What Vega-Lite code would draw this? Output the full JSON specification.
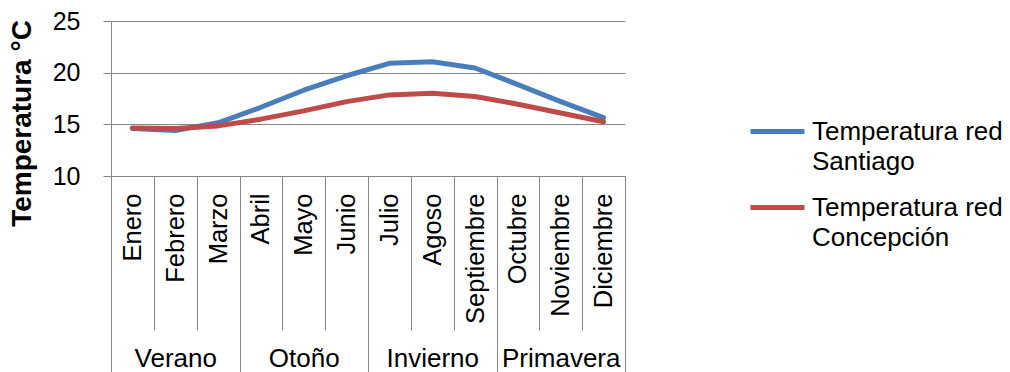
{
  "$schema": "https://vega.github.io/schema/vega-lite/v6.json",
  "width": 514,
  "height": 155,
  "autosize": {"type": "none"},
  "padding": {"left": 111, "top": 21, "right": 385, "bottom": 196},
  "datasets": {
    "temperaturas": [
      {"n": 1, "mes": "Enero", "serie": "Temperatura red Santiago", "temp": 14.6},
      {"n": 2, "mes": "Febrero", "serie": "Temperatura red Santiago", "temp": 14.4},
      {"n": 3, "mes": "Marzo", "serie": "Temperatura red Santiago", "temp": 15.15},
      {"n": 4, "mes": "Abril", "serie": "Temperatura red Santiago", "temp": 16.65},
      {"n": 5, "mes": "Mayo", "serie": "Temperatura red Santiago", "temp": 18.3},
      {"n": 6, "mes": "Junio", "serie": "Temperatura red Santiago", "temp": 19.7},
      {"n": 7, "mes": "Julio", "serie": "Temperatura red Santiago", "temp": 20.9},
      {"n": 8, "mes": "Agoso", "serie": "Temperatura red Santiago", "temp": 21.05},
      {"n": 9, "mes": "Septiembre", "serie": "Temperatura red Santiago", "temp": 20.45},
      {"n": 10, "mes": "Octubre", "serie": "Temperatura red Santiago", "temp": 18.85},
      {"n": 11, "mes": "Noviembre", "serie": "Temperatura red Santiago", "temp": 17.2},
      {"n": 12, "mes": "Diciembre", "serie": "Temperatura red Santiago", "temp": 15.65},
      {"n": 1, "mes": "Enero", "serie": "Temperatura red Concepción", "temp": 14.65},
      {"n": 2, "mes": "Febrero", "serie": "Temperatura red Concepción", "temp": 14.6},
      {"n": 3, "mes": "Marzo", "serie": "Temperatura red Concepción", "temp": 14.85},
      {"n": 4, "mes": "Abril", "serie": "Temperatura red Concepción", "temp": 15.5},
      {"n": 5, "mes": "Mayo", "serie": "Temperatura red Concepción", "temp": 16.3},
      {"n": 6, "mes": "Junio", "serie": "Temperatura red Concepción", "temp": 17.2},
      {"n": 7, "mes": "Julio", "serie": "Temperatura red Concepción", "temp": 17.85},
      {"n": 8, "mes": "Agoso", "serie": "Temperatura red Concepción", "temp": 18.0},
      {"n": 9, "mes": "Septiembre", "serie": "Temperatura red Concepción", "temp": 17.7},
      {"n": 10, "mes": "Octubre", "serie": "Temperatura red Concepción", "temp": 16.95},
      {"n": 11, "mes": "Noviembre", "serie": "Temperatura red Concepción", "temp": 16.1},
      {"n": 12, "mes": "Diciembre", "serie": "Temperatura red Concepción", "temp": 15.25}
    ],
    "estaciones": [
      {"estacion": "Verano"},
      {"estacion": "Otoño"},
      {"estacion": "Invierno"},
      {"estacion": "Primavera"}
    ]
  },
  "layer": [
    {
      "data": {"name": "estaciones"},
      "mark": {"type": "rect", "opacity": 0},
      "encoding": {
        "x": {
          "field": "estacion",
          "type": "nominal",
          "scale": {
            "domain": ["Verano", "Otoño", "Invierno", "Primavera"],
            "paddingInner": 0,
            "paddingOuter": 0
          },
          "axis": {
            "orient": "bottom",
            "title": null,
            "domain": false,
            "tickBand": "extent",
            "tickSize": 196,
            "labelAngle": 0,
            "labelAlign": "center",
            "labelBaseline": "top",
            "labelPadding": -27,
            "labelFontSize": 26
          }
        }
      }
    },
    {
      "data": {"name": "temperaturas"},
      "mark": {"type": "line", "strokeWidth": 5, "strokeCap": "round", "strokeJoin": "round"},
      "encoding": {
        "x": {
          "field": "mes",
          "type": "nominal",
          "bandPosition": 0.5,
          "scale": {
            "type": "band",
            "domain": ["Enero", "Febrero", "Marzo", "Abril", "Mayo", "Junio", "Julio", "Agoso", "Septiembre", "Octubre", "Noviembre", "Diciembre"],
            "paddingInner": 0,
            "paddingOuter": 0
          },
          "axis": {
            "orient": "bottom",
            "title": null,
            "tickBand": "extent",
            "tickSize": 154,
            "labelAngle": -90,
            "labelAlign": "right",
            "labelBaseline": "middle",
            "labelPadding": -137,
            "labelFontSize": 25.5
          }
        },
        "y": {
          "field": "temp",
          "type": "quantitative",
          "scale": {"domain": [10, 25], "nice": false, "zero": false},
          "axis": {
            "values": [10, 15, 20, 25],
            "title": "Temperatura °C",
            "titleFontSize": 28,
            "titleFontWeight": "bold",
            "titleAngle": -90,
            "titleAlign": "center",
            "titleBaseline": "middle",
            "titleX": -88.5,
            "titleY": 102,
            "grid": true,
            "tickSize": 8,
            "labelPadding": 23,
            "labelFontSize": 25
          }
        },
        "color": {
          "field": "serie",
          "type": "nominal",
          "scale": {
            "domain": ["Temperatura red Santiago", "Temperatura red Concepción"],
            "range": ["#4A7EBB", "#BE4B48"]
          },
          "legend": {
            "orient": "none",
            "legendX": 637,
            "legendY": 81,
            "title": null,
            "padding": 0,
            "symbolType": "stroke",
            "symbolSize": 2916,
            "symbolStrokeWidth": 5,
            "labelFontSize": 26,
            "labelOffset": 5,
            "labelLimit": 0,
            "labelBaseline": "middle",
            "labelExpr": "[substring(datum.label, 0, 15), substring(datum.label, 16)]",
            "rowPadding": 3
          }
        },
        "order": {"field": "n"}
      }
    }
  ],
  "resolve": {"scale": {"x": "independent"}, "axis": {"x": "independent"}},
  "config": {
    "font": "Liberation Sans",
    "view": {"stroke": null},
    "axis": {
      "domainColor": "#868686",
      "tickColor": "#868686",
      "gridColor": "#868686",
      "labelColor": "#000000",
      "titleColor": "#000000",
      "labelOverlap": false,
      "labelBound": false,
      "labelFlush": false
    },
    "legend": {"labelColor": "#000000"},
    "style": {"guide-label": {"lineHeight": 30}}
  }
}
